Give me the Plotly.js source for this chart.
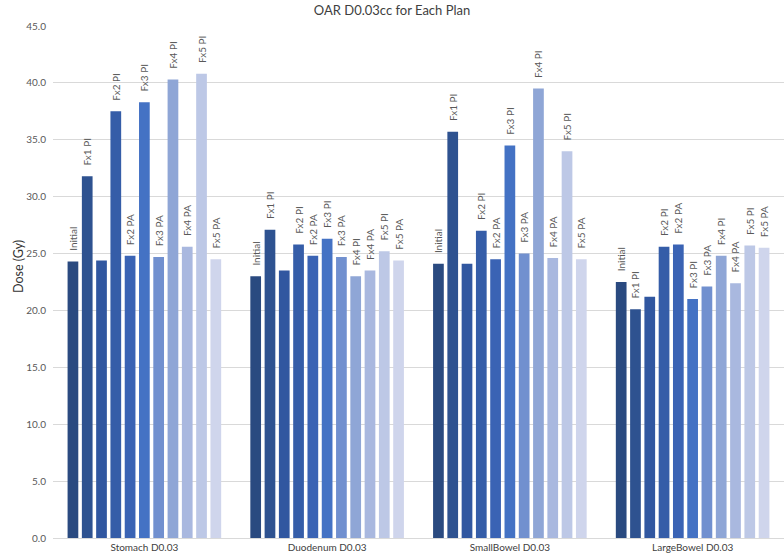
<!DOCTYPE html>
<html>
<head>
<meta charset="utf-8">
<script src="https://cdn.plot.ly/plotly-3.0.1.min.js"></script>
<style>html,body{margin:0;padding:0;background:#fff;}#chart{width:784px;height:557px;}</style>
</head>
<body>
<div id="chart"></div>
<script>
const categories = ["Stomach D0.03", "Duodenum D0.03", "SmallBowel D0.03", "LargeBowel D0.03"];
const seriesNames = ["Initial", "Fx1 PI", "Fx1 PA", "Fx2 PI", "Fx2 PA", "Fx3 PI", "Fx3 PA", "Fx4 PI", "Fx4 PA", "Fx5 PI", "Fx5 PA"];
const barLabels = ["Initial", "Fx1 PI", "", "Fx2 PI", "Fx2 PA", "Fx3 PI", "Fx3 PA", "Fx4 PI", "Fx4 PA", "Fx5 PI", "Fx5 PA"];

const initial = [24.3, 23.0, 24.1, 22.5];
const fx1PI   = [31.8, 27.1, 35.7, 20.1];
const fx1PA   = [24.4, 23.5, 24.1, 21.2];
const fx2PI   = [37.5, 25.8, 27.0, 25.6];
const fx2PA   = [24.8, 24.8, 24.5, 25.8];
const fx3PI   = [38.3, 26.3, 34.5, 21.0];
const fx3PA   = [24.7, 24.7, 25.0, 22.1];
const fx4PI   = [40.3, 23.0, 39.5, 24.8];
const fx4PA   = [25.6, 23.5, 24.6, 22.4];
const fx5PI   = [40.8, 25.2, 34.0, 25.7];
const fx5PA   = [24.5, 24.4, 24.5, 25.5];

const seriesValues = [initial, fx1PI, fx1PA, fx2PI, fx2PA, fx3PI, fx3PA, fx4PI, fx4PA, fx5PI, fx5PA];
const colors = ["#2a4a80", "#2e5290", "#3157a0", "#355da8", "#3a63b4", "#4472c4",
                "#7190cf", "#8fa6d6", "#a9b8df", "#bdc8e6", "#cfd5ec"];

const FONT = "Lato, 'Open Sans', sans-serif";
const PADDING = "\u00a0\u00a0\u00a0";

const traces = seriesNames.map((name, i) => ({
  type: 'bar',
  name: name,
  x: categories,
  y: seriesValues[i],
  text: categories.map(() => barLabels[i] ? PADDING + barLabels[i] : ""),
  textposition: 'outside',
  textangle: -90,
  constraintext: 'none',
  cliponaxis: false,
  textfont: {family: FONT, size: 10, color: '#595959'},
  marker: {color: colors[i], line: {width: 0}},
  hoverinfo: 'x+y+name'
}));

const layout = {
  width: 784,
  height: 557,
  margin: {l: 53, r: 0, t: 26, b: 19, pad: 0},
  paper_bgcolor: '#ffffff',
  plot_bgcolor: '#ffffff',
  barmode: 'group',
  bargap: 0.14,
  bargroupgap: 0.25,
  showlegend: false,
  font: {family: FONT, color: '#595959'},
  title: {
    text: 'OAR D0.03cc for Each Plan',
    font: {family: FONT, size: 13, color: '#404040'},
    x: 0.5, xref: 'container', xanchor: 'center',
    y: 0.982, yref: 'container', yanchor: 'middle'
  },
  xaxis: {
    type: 'category',
    tickfont: {family: FONT, size: 10, color: '#404040'},
    showgrid: false,
    showline: true,
    linecolor: '#d9d9d9',
    linewidth: 1,
    ticks: '',
    ticklabelstandoff: 0,
    automargin: false
  },
  yaxis: {
    range: [0, 45],
    dtick: 5,
    tick0: 0,
    tickformat: '.1f',
    tickfont: {family: FONT, size: 10, color: '#595959'},
    showgrid: true,
    gridcolor: '#d9d9d9',
    gridwidth: 1,
    zeroline: false,
    showline: false,
    ticks: '',
    ticklabelstandoff: 6,
    automargin: false
  },
  annotations: [{
    text: 'Dose (Gy)',
    xref: 'paper', yref: 'paper',
    x: -0.048, y: 0.531,
    xanchor: 'center', yanchor: 'middle',
    textangle: -90,
    showarrow: false,
    font: {family: FONT, size: 12.5, color: '#333333'}
  }]
};

Plotly.newPlot('chart', traces, layout, {displayModeBar: false, staticPlot: true});
</script>
</body>
</html>
